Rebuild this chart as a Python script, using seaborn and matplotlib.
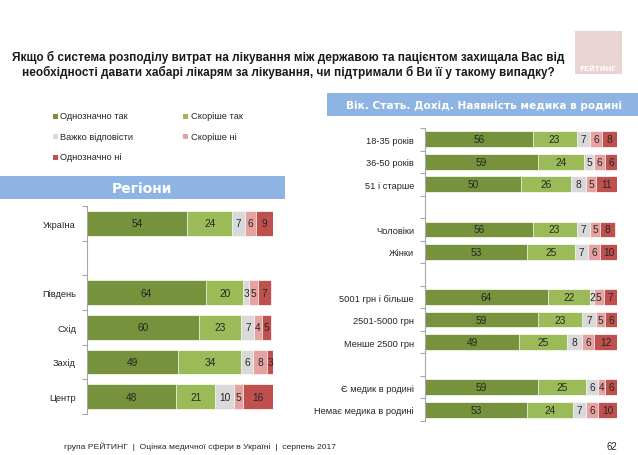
import numpy as np
import pandas as pd
import matplotlib
matplotlib.use("Agg")
import matplotlib.pyplot as plt
import seaborn as sns
from matplotlib import font_manager as fm
from matplotlib.patches import Rectangle
from matplotlib.ticker import FixedLocator

# ---------------- data ----------------
series_names = ["Однозначно так", "Скоріше так", "Важко відповісти", "Скоріше ні", "Однозначно ні"]
colors = ["#76923C", "#9BBB59", "#D9D9D9", "#E6A2A2", "#C0504D"]

left_categories = ["Україна", "Південь", "Схід", "Захід", "Центр"]
left_order = ["Україна", " ", "Південь", "Схід", "Захід", "Центр"]
left_def_yes = [54, 64, 60, 49, 48]
left_rather_yes = [24, 20, 23, 34, 21]
left_hard = [7, 3, 7, 6, 10]
left_rather_no = [6, 5, 4, 8, 5]
left_def_no = [9, 7, 5, 3, 16]

right_categories = ["18-35 років", "36-50 років", "51 і старше", "Чоловіки", "Жінки",
                    "5001 грн і більше", "2501-5000 грн", "Менше 2500 грн",
                    "Є медик в родині", "Немає медика в родині"]
right_order = ["18-35 років", "36-50 років", "51 і старше", " ", "Чоловіки", "Жінки", "  ",
               "5001 грн і більше", "2501-5000 грн", "Менше 2500 грн", "   ",
               "Є медик в родині", "Немає медика в родині"]
right_def_yes = [56, 59, 50, 56, 53, 64, 59, 49, 59, 53]
right_rather_yes = [23, 24, 26, 23, 25, 22, 23, 25, 25, 24]
right_hard = [7, 5, 8, 7, 7, 2, 7, 8, 6, 7]
right_rather_no = [6, 6, 5, 5, 6, 5, 5, 6, 4, 6]
right_def_no = [8, 6, 11, 8, 10, 7, 6, 12, 6, 10]

title_text = ("Якщо б система розподілу витрат на лікування між державою та пацієнтом захищала Вас від\n"
              "необхідності давати хабарі лікарям за лікування, чи підтримали б Ви її у такому випадку?")
left_header = "Регіони"
right_header = "Вік. Стать. Дохід. Наявність медика в родині"
footer_text = "група РЕЙТИНГ  |  Оцінка медичної сфери в Україні  |  серпень 2017"
page_number = "62"
logo_text = "РЕЙТИНГ"

# ---------------- style ----------------
sns.set_theme(style="white")
names = {f.name for f in fm.fontManager.ttflist}
narrow = "Liberation Sans Narrow" in names
base_font = "Liberation Sans Narrow" if narrow else "Liberation Sans"
plt.rcParams["font.family"] = [base_font, "DejaVu Sans"]
scale = 1.0 if narrow else 0.85

W, H = 638, 456
fig = plt.figure(figsize=(W / 100, H / 100), dpi=100)
fig.patch.set_facecolor("white")


def fx(px):
    return px / W


def fy(py):
    return 1 - py / H


def draw(ax, cats, order, values, bar_h, fs):
    arr = np.array(values, dtype=float)
    cum = arr.cumsum(axis=0)
    df = pd.DataFrame({"cat": cats})
    for i in reversed(range(len(series_names))):
        df["v"] = cum[i]
        sns.barplot(data=df, x="v", y="cat", order=order, orient="h", color=colors[i],
                    saturation=1, width=bar_h, errorbar=None, ax=ax,
                    edgecolor="white", linewidth=0.5)
    for j, c in enumerate(cats):
        pos = order.index(c)
        for i in range(len(series_names)):
            start = cum[i][j] - arr[i][j]
            ax.text(start + arr[i][j] / 2, pos, f"{int(arr[i][j])}", ha="center", va="center",
                    fontsize=fs, color="#262626")
    ax.set_xlim(0, 100)
    ax.set_ylim(len(order) - 0.5, -0.5)
    ax.set_xlabel("")
    ax.set_ylabel("")
    ax.set_xticks([])
    for s in ["top", "right", "bottom"]:
        ax.spines[s].set_visible(False)
    ax.spines["left"].set_color("#A6A6A6")
    ax.spines["left"].set_linewidth(0.8)
    ax.yaxis.set_minor_locator(FixedLocator(np.arange(-0.5, len(order), 1.0)))
    ax.tick_params(axis="y", which="major", length=0, pad=8, labelsize=7.8 * scale,
                   labelcolor="#262626")
    ax.tick_params(axis="y", which="minor", length=3.5, width=0.8, color="#A6A6A6",
                   direction="out", left=True)
    ax.set_facecolor("none")


# left axis (regions)
axL = fig.add_axes([fx(87), fy(415), fx(273) - fx(87), fy(207) - fy(415)])
draw(axL, left_categories, left_order,
     [left_def_yes, left_rather_yes, left_hard, left_rather_no, left_def_no], 0.72, 8.6 * scale)

# right axis (demographics)
axR = fig.add_axes([fx(425), fy(422), fx(617) - fx(425), fy(129) - fy(422)])
draw(axR, right_categories, right_order,
     [right_def_yes, right_rather_yes, right_hard, right_rather_no, right_def_no], 0.7, 8.6 * scale)

# title
fig.text(fx(288), fy(65), title_text, ha="center", va="center", fontsize=10 * scale,
         fontweight="bold", color="#1a1a1a", linespacing=1.18)

# logo
fig.add_artist(Rectangle((fx(575), fy(75)), fx(47), fy(32) - fy(75), transform=fig.transFigure,
                         facecolor="#E9D3D3", edgecolor="none"))
fig.text(fx(598), fy(69), logo_text, ha="center", va="center", fontsize=5, color="white",
         fontweight="bold", family=["DejaVu Sans"])

# headers
hdr_color = "#8DB4E2"
fig.add_artist(Rectangle((0, fy(200)), fx(285), fy(177) - fy(200), transform=fig.transFigure,
                         facecolor=hdr_color, edgecolor="none"))
fig.text(fx(142), fy(189), left_header, ha="center", va="center", fontsize=10,
         fontweight="heavy", color="white", family=["DejaVu Sans"])
fig.add_artist(Rectangle((fx(327), fy(117)), 1 - fx(327), fy(94) - fy(117),
                         transform=fig.transFigure, facecolor=hdr_color, edgecolor="none"))
fig.text(fx(484), fy(106), right_header, ha="center", va="center", fontsize=7.6,
         fontweight="heavy", color="white", family=["DejaVu Sans"])

# legend (manual)
leg_pos = [(55, 117), (186, 117), (55, 137), (186, 137), (55, 158)]
for (px, py), name, col in zip(leg_pos, series_names, colors):
    fig.add_artist(Rectangle((fx(px - 2.5), fy(py + 2.5)), fx(5), fy(0) - fy(5),
                             transform=fig.transFigure, facecolor=col, edgecolor="none"))
    fig.text(fx(px + 5), fy(py), name, ha="left", va="center", fontsize=7.9 * scale,
             color="#262626")

# footer
fig.text(fx(200), fy(447), footer_text, ha="center", va="center", fontsize=7.2 * scale,
         color="#262626")
fig.text(fx(612), fy(447), page_number, ha="center", va="center", fontsize=8.2 * scale,
         color="#262626")

fig.savefig("out.png", dpi=100, facecolor="white")
